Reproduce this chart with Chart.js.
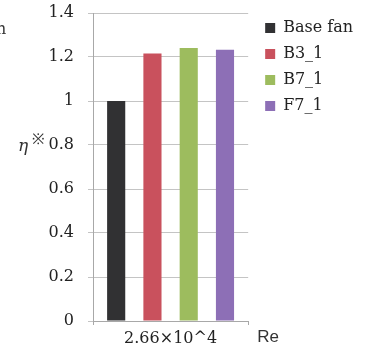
<!DOCTYPE html>
<html>
<head>
<meta charset="utf-8">
<script src="https://cdn.jsdelivr.net/npm/chart.js@4.4.1/dist/chart.umd.min.js"></script>
<style>
  html, body { margin: 0; padding: 0; background: #fff; }
  #wrap { width: 371px; height: 359px; position: relative; }
</style>
</head>
<body>
<div id="wrap"><canvas id="myChart" width="371" height="359"></canvas></div>
<script>
const categories = ["2.66×10^4"];
const seriesNames = ["Base fan", "B3_1", "B7_1", "F7_1"];
const baseFan = [1.0];
const b3_1 = [1.216];
const b7_1 = [1.241];
const f7_1 = [1.233];
const yTicks = [0, 0.2, 0.4, 0.6, 0.8, 1, 1.2, 1.4];

const colors = ["#313133", "#c9515d", "#9dbc5e", "#8d6fb6"];
const serif = "'DejaVu Serif', serif";

// extra text that sits outside the axes
const labelsPlugin = {
  id: "extraLabels",
  afterInit(chart) {
    // let the legend take its natural width instead of the 1/4 cap
    const legend = chart.legend;
    const fit = legend.fit.bind(legend);
    legend.fit = function () {
      fit();
      if (this.columnSizes && this.columnSizes.length) {
        this.width = this.options.labels.padding + this.columnSizes[0].width + 10;
      }
    };
  },
  afterLayout(chart) {
    // small gap between plot and legend
    chart.legend.left += 7;
    chart.legend.right += 7;
    chart.legend.top -= 3;
  },
  afterDraw(chart) {
    const ctx = chart.ctx;
    const area = chart.chartArea;
    const y = chart.scales.y;
    ctx.save();
    ctx.fillStyle = "#333";
    ctx.textBaseline = "middle";
    ctx.textAlign = "left";
    ctx.font = "italic 17px " + serif;
    const yEta = y.getPixelForValue(0.8);
    ctx.fillText("η", area.left - 75, yEta + 2);
    ctx.font = "15px " + serif;
    ctx.fillText("※", area.left - 61, yEta - 5);
    ctx.font = "17px 'Liberation Sans', Arial, sans-serif";
    ctx.fillText("Re", area.right + 9, area.bottom + 16);
    ctx.font = "16px " + serif;
    ctx.fillText("n", -4, 30);
    ctx.restore();
  },
};

const ctx = document.getElementById("myChart").getContext("2d");
const chart = new Chart(ctx, {
  type: "bar",
  data: {
    labels: categories,
    datasets: [
      { label: seriesNames[0], data: baseFan, backgroundColor: colors[0] },
      { label: seriesNames[1], data: b3_1, backgroundColor: colors[1] },
      { label: seriesNames[2], data: b7_1, backgroundColor: colors[2] },
      { label: seriesNames[3], data: f7_1, backgroundColor: colors[3] },
    ],
  },
  options: {
    responsive: false,
    animation: false,
    devicePixelRatio: 1,
    layout: { padding: { top: 13, right: 15, bottom: 0, left: 0 } },
    datasets: {
      bar: { categoryPercentage: 0.935, barPercentage: 0.5 },
    },
    plugins: {
      tooltip: { enabled: false },
      legend: {
        position: "right",
        align: "start",
        labels: {
          boxWidth: 10,
          boxHeight: 10,
          padding: 10,
          color: "#222",
          font: { family: serif, size: 16 },
        },
      },
    },
    scales: {
      x: {
        grid: {
          display: true,
          drawOnChartArea: false,
          tickLength: 4,
          color: "#a8a8a8",
        },
        border: { color: "#a8a8a8" },
        ticks: {
          color: "#222",
          padding: 4,
          font: { family: serif, size: 16 },
        },
        afterFit: (scale) => { scale.height = 38; },
      },
      y: {
        min: 0,
        max: 1.4,
        afterBuildTicks: (axis) => { axis.ticks = yTicks.map((v) => ({ value: v })); },
        grid: { color: "#c4c4c4", tickLength: 5 },
        border: { color: "#a8a8a8" },
        ticks: {
          color: "#222",
          padding: 14,
          font: { family: serif, size: 16 },
          callback: (v) => String(v),
        },
        afterFit: (scale) => {
          scale.width = 93;
          scale.paddingTop = 0;
          scale.paddingBottom = 0;
        },
      },
    },
  },
  plugins: [labelsPlugin],
});
</script>
</body>
</html>
